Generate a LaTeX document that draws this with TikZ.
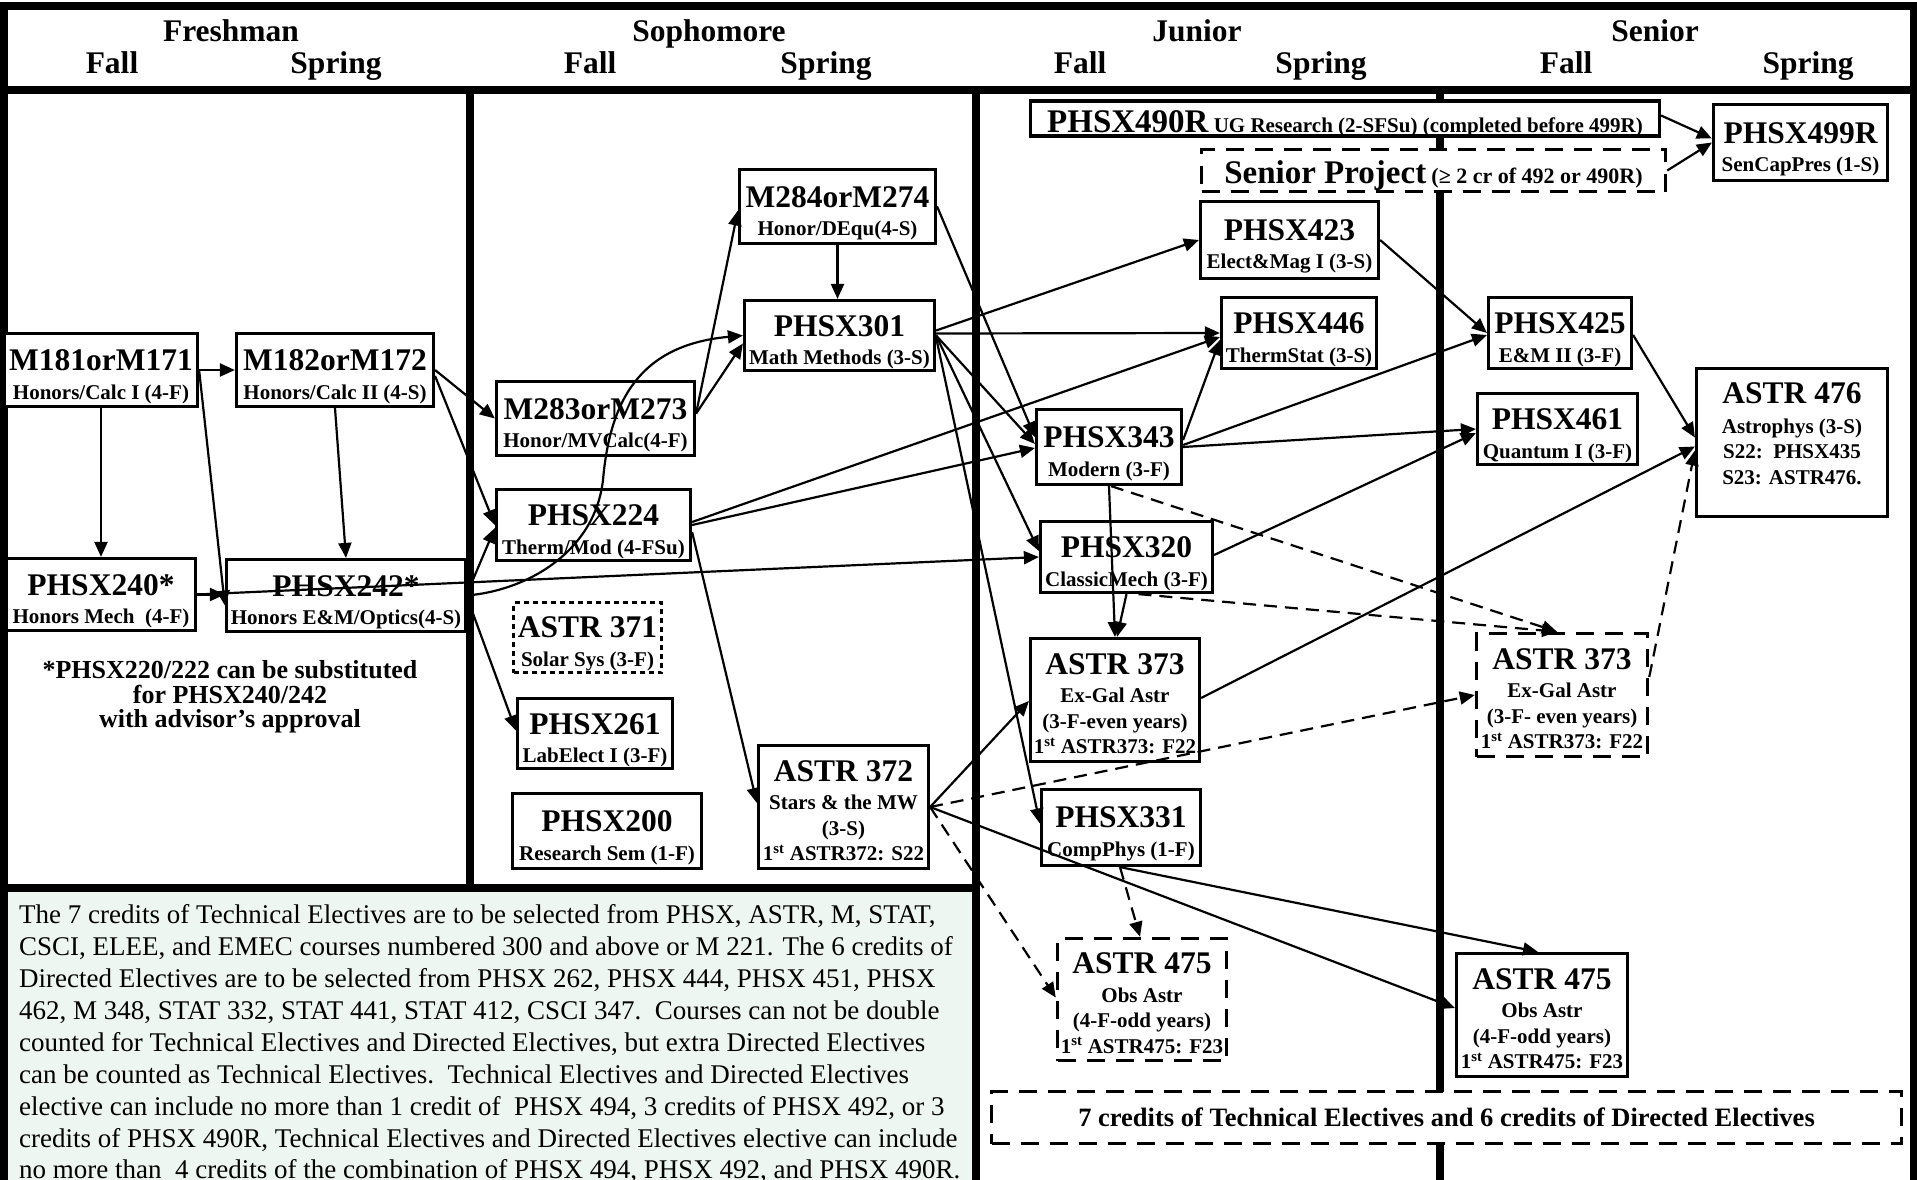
\documentclass[tikz,border=0pt]{standalone}
\usepackage{fontspec}
\setmainfont{Liberation Serif}
\usetikzlibrary{arrows.meta,calc}
\newcommand{\Ttl}[1]{{\fontsize{31.5}{31.5}\selectfont\rule{0pt}{34pt}#1}}
\newcommand{\TtlB}[1]{{\fontsize{31.5}{31.5}\selectfont\rule{0pt}{28pt}#1}}
\newcommand{\TtlN}[1]{{\fontsize{31.5}{31.5}\selectfont #1}}
\newcommand{\BigTtl}[1]{{\fontsize{33}{33}\selectfont #1}}
\definecolor{notegreen}{RGB}{238,246,241}
\begin{document}
\begin{tikzpicture}[x=1pt,y=-1pt,
  box/.style={draw, line width=3.2pt, fill=white, inner sep=0pt, align=center,
    font=\bfseries\fontsize{21}{25.5}\selectfont},
  dbox/.style={box, line width=3.5pt, dash pattern=on 18pt off 11pt},
  dotbox/.style={box, line width=3.5pt, dash pattern=on 5pt off 4pt},
  hdr/.style={font=\bfseries\fontsize{31.5}{31.5}\selectfont, inner sep=0pt, anchor=base},
  notetxt/.style={font=\bfseries\fontsize{26}{26}\selectfont, inner sep=0pt, anchor=base},
  para/.style={font=\fontsize{27}{32}\selectfont, inner sep=0pt, anchor=base west},
  frame/.style={line width=7.5pt},
  arr/.style={line width=2.2pt, -{Triangle[length=15pt,width=13pt]}},
  darr/.style={arr, dash pattern=on 13pt off 8pt}]
\useasboundingbox (0,0) rectangle (1917,1180);
\clip (0,0) rectangle (1917,1180);

% background note area
\fill[notegreen] (4,888) rectangle (976,1180);

% frame and dividers
\draw[frame] (0,6) -- (1917,6);
\draw[frame] (0,90) -- (1917,90);
\draw[frame] (4,2) -- (4,1180);
\draw[frame] (1913.5,2) -- (1913.5,1180);
\draw[frame] (470,90) -- (470,888);
\draw[frame] (0,888) -- (980,888);
\draw[frame] (976,90) -- (976,1180);
\draw[frame] (1440,90) -- (1440,1180);

% header
\node[hdr] (hfr) at (231,42) {Freshman};
\node[hdr] (hso) at (709,42) {Sophomore};
\node[hdr] (hju) at (1197,42) {Junior};
\node[hdr] (hse) at (1655,42) {Senior};
\node[hdr] (f1) at (112,74) {Fall};
\node[hdr] (s1) at (336,74) {Spring};
\node[hdr] (f2) at (590,74) {Fall};
\node[hdr] (s2) at (826,74) {Spring};
\node[hdr] (f3) at (1080,74) {Fall};
\node[hdr] (s3) at (1321,74) {Spring};
\node[hdr] (f4) at (1566,74) {Fall};
\node[hdr] (s4) at (1808,74) {Spring};

% Freshman
\node[box, minimum width=193pt, minimum height=73pt] (m181) at (101,370) {\Ttl{M181orM171}\\[3pt]Honors/Calc I (4-F)};
\node[box, minimum width=197pt, minimum height=73pt] (m182) at (335,370) {\Ttl{M182orM172}\\[3pt]Honors/Calc II (4-S)};
\node[box, minimum width=189pt, minimum height=72pt] (p240) at (101,594.5) {\Ttl{PHSX240*}\\[3pt]Honors Mech\ \ (4-F)};
\node[box, minimum width=239pt, minimum height=72pt] (p242) at (346,595.5) {\Ttl{PHSX242*}\\[3pt]Honors E\&M/Optics(4-S)};
\node[notetxt] (n1) at (230,678) {*PHSX220/222 can be substituted};
\node[notetxt] (n2) at (230,703) {for PHSX240/242};
\node[notetxt] (n3) at (230,727) {with advisor’s approval};

% Sophomore
\node[box, minimum width=198pt, minimum height=74pt] (m283) at (595.5,418.5) {\Ttl{M283orM273}\\[3pt]Honor/MVCalc(4-F)};
\node[box, minimum width=196pt, minimum height=74pt] (m284) at (837.5,206.5) {\Ttl{M284orM274}\\[3pt]Honor/DEqu(4-S)};
\node[box, minimum width=190pt, minimum height=70pt] (p301) at (839.5,335.5) {\Ttl{PHSX301}\\[3pt]Math Methods (3-S)};
\node[box, minimum width=194pt, minimum height=71pt] (p224) at (593.5,525) {\Ttl{PHSX224}\\[3pt]Therm/Mod (4-FSu)};
\node[dotbox, minimum width=148pt, minimum height=70pt] (a371) at (587.5,637.5) {\Ttl{ASTR 371}\\[3pt]Solar Sys (3-F)};
\node[box, minimum width=155pt, minimum height=70pt] (p261) at (595,733.5) {\Ttl{PHSX261}\\[3pt]LabElect I (3-F)};
\node[box, minimum width=189pt, minimum height=75pt] (p200) at (607,831) {\Ttl{PHSX200}\\[3pt]Research Sem (1-F)};
\node[box, minimum width=170pt, minimum height=123pt] (a372) at (843.5,807) {\TtlB{ASTR 372}\\[3pt]Stars \& the MW\\(3-S)\\1\textsuperscript{st} ASTR372: S22};

% Junior
\node[box, minimum width=629pt, minimum height=35pt, text height=30pt, text depth=3pt] (p490) at (1345,118.5) {\BigTtl{PHSX490R} UG Research (2-SFSu) (completed before 499R)};
\node[dbox, minimum width=464pt, minimum height=42pt, text height=29pt, text depth=3pt] (sp) at (1433.5,170.5) {\BigTtl{Senior Project} {\fontsize{22}{22}\selectfont(≥ 2 cr of 492 or 490R)}};
\node[box, minimum width=178pt, minimum height=77pt] (p423) at (1289.5,240) {\Ttl{PHSX423}\\[3pt]Elect\&Mag I (3-S)};
\node[box, minimum width=155pt, minimum height=71pt] (p446) at (1299,333) {\Ttl{PHSX446}\\[3pt]ThermStat (3-S)};
\node[box, minimum width=145pt, minimum height=75pt] (p343) at (1109,447) {\Ttl{PHSX343}\\[3pt]Modern (3-F)};
\node[box, minimum width=172pt, minimum height=71pt] (p320) at (1126.5,557) {\Ttl{PHSX320}\\[3pt]ClassicMech (3-F)};
\node[box, minimum width=169pt, minimum height=123pt] (a373j) at (1115,700) {\TtlB{ASTR 373}\\[3pt]Ex-Gal Astr\\(3-F-even years)\\1\textsuperscript{st} ASTR373: F22};
\node[box, minimum width=159pt, minimum height=76pt] (p331) at (1121,827.5) {\Ttl{PHSX331}\\[3pt]CompPhys (1-F)};
\node[dbox, minimum width=169pt, minimum height=122pt] (a475j) at (1142,999.5) {\TtlB{ASTR 475}\\[3pt]Obs Astr\\(4-F-odd years)\\1\textsuperscript{st} ASTR475: F23};

% Senior
\node[box, minimum width=174pt, minimum height=76pt] (p499) at (1800.5,142.5) {\Ttl{PHSX499R}\\[3pt]SenCapPres (1-S)};
\node[box, minimum width=143pt, minimum height=71pt] (p425) at (1560,333) {\Ttl{PHSX425}\\[3pt]E\&M II (3-F)};
\node[box, minimum width=160pt, minimum height=71pt] (p461) at (1557.5,429) {\Ttl{PHSX461}\\[3pt]Quantum I (3-F)};
\node[box, minimum width=191pt, minimum height=148pt] (a476) at (1792,442.5) {};
\node[inner sep=0pt, anchor=north, align=center, font=\bfseries\fontsize{21}{25.5}\selectfont] (a476t) at (1792,382) {\TtlN{ASTR 476}\\[4.5pt]Astrophys (3-S)\\S22:\ \ PHSX435\\S23: ASTR476.};
\node[dbox, minimum width=171pt, minimum height=123pt] (a373s) at (1562,695) {\TtlB{ASTR 373}\\[3pt]Ex-Gal Astr\\(3-F- even years)\\1\textsuperscript{st} ASTR373: F22};
\node[box, minimum width=171pt, minimum height=123pt] (a475s) at (1542,1015) {\TtlB{ASTR 475}\\[3pt]Obs Astr\\(4-F-odd years)\\1\textsuperscript{st} ASTR475: F23};
\node[dbox, minimum width=910pt, minimum height=52pt, font=\bfseries\fontsize{26.5}{26.5}\selectfont] (cred) at (1446.5,1117.5) {7 credits of Technical Electives and 6 credits of Directed Electives};

% paragraph
\node[para] (t1) at (19,923) {The 7 credits of Technical Electives are to be selected from PHSX, ASTR, M, STAT,};
\node[para] (t2) at (19,955) {CSCI, ELEE, and EMEC courses numbered 300 and above or M 221. The 6 credits of};
\node[para] (t3) at (19,987) {Directed Electives are to be selected from PHSX 262, PHSX 444, PHSX 451, PHSX};
\node[para] (t4) at (19,1019) {462, M 348, STAT 332, STAT 441, STAT 412, CSCI 347.\ \ Courses can not be double};
\node[para] (t5) at (19,1051) {counted for Technical Electives and Directed Electives, but extra Directed Electives};
\node[para] (t6) at (19,1083) {can be counted as Technical Electives.\ \ Technical Electives and Directed Electives};
\node[para] (t7) at (19,1115) {elective can include no more than 1 credit of\ \ PHSX 494, 3 credits of PHSX 492, or 3};
\node[para] (t8) at (19,1147) {credits of PHSX 490R, Technical Electives and Directed Electives elective can include};
\node[para] (t9) at (19,1178) {no more than\ \ 4 credits of the combination of PHSX 494, PHSX 492, and PHSX 490R.};

% connectors
\draw[arr] (m181.east) -- (m182.west);
\draw[arr] (m181.south) -- (p240.north);
\draw[arr] (m181.east) -- ([yshift=-10pt]p242.west);
\draw[arr] (m182.south) -- (p242.north);
\draw[arr] (m182.east) -- (m283.west);
\draw[arr] ([yshift=-6pt]m182.east) -- (p224.west);
\draw[arr] (p240.east) -- (p240.east -| p242.west);
\draw[arr] (p240.east) -- (p320.west);
\draw[arr] (p242.east) .. controls (530,590) and (595,550) .. (603,480) .. controls (610,400) and (640,345) .. (p301.west);
\draw[arr] ([yshift=2pt]p242.east) -- ([yshift=-3pt]p224.west);
\draw[arr] ([yshift=-2pt]p242.east) -- ([yshift=3pt]p261.west);
\draw[arr] ([yshift=5pt]m283.east) -- ([yshift=-4pt]m284.west);
\draw[arr] ([yshift=5pt]m283.east) -- ([yshift=-8pt]p301.west);
\draw[arr] (m284.south) -- (m284.south |- p301.north);
\draw[arr] (m284.east) -- ([yshift=10pt]p343.west);
\draw[arr] ([yshift=5pt]p301.east) -- (p423.west);
\draw[arr] ([yshift=2pt]p301.east) -- (p446.west);
\draw[arr] (p301.east) -- ([yshift=3pt]p343.west);
\draw[arr] (p301.east) -- ([yshift=6pt]p320.west);
\draw[arr] ([yshift=-2pt]p301.east) -- ([yshift=4pt]p331.west);
\draw[arr] ([yshift=3pt]p224.east) -- ([yshift=-4pt]p446.west);
\draw[arr] (p224.east) -- ([yshift=-1pt]p343.west);
\draw[arr] ([yshift=-7pt]p224.east) -- ([yshift=4pt]a372.west);
\draw[arr] ([yshift=7pt]p343.east) -- ([yshift=-7pt]p446.west);
\draw[arr] ([yshift=2pt]p343.east) -- ([yshift=-2pt]p425.west);
\draw[arr] (p343.east) -- (p461.west);
\draw[arr] (p343.south) -- (a373j.north);
\draw[darr] ([xshift=2pt]p343.south) -- ([xshift=-5pt]a373s.north);
\draw[arr] ([yshift=2pt]p320.east) -- ([yshift=-4pt]p461.west);
\draw[arr] (p320.south) -- ([xshift=2pt]a373j.north);
\draw[darr] ([xshift=12pt]p320.south) -- ([xshift=-5pt]a373s.north);
\draw[arr] (p423.east) -- (p425.west);
\draw[arr] ([yshift=-2pt]p425.east) -- ([yshift=5pt]a476.west);
\draw[arr] ([yshift=2pt]a373j.east) -- ([yshift=-4pt]a476.west);
\draw[darr] ([yshift=18pt]a373s.east) -- ([yshift=-8pt]a476.west);
\draw[arr] (a372.east) -- ([yshift=-1pt]a373j.west);
\draw[darr] (a372.east) -- (a373s.west);
\draw[darr] (a372.east) -- ([yshift=2pt]a475j.west);
\draw[arr] (a372.east) -- ([yshift=7pt]a475s.west);
\draw[darr] ([xshift=-1pt]p331.south) -- ([xshift=-2pt]a475j.north);
\draw[arr] ([xshift=-1pt]p331.south) -- ([xshift=-4pt]a475s.north);
\draw[arr] ([yshift=3pt]p490.east) -- ([yshift=4pt]p499.west);
\draw[arr] (sp.east) -- (p499.west);
\end{tikzpicture}
\end{document}
